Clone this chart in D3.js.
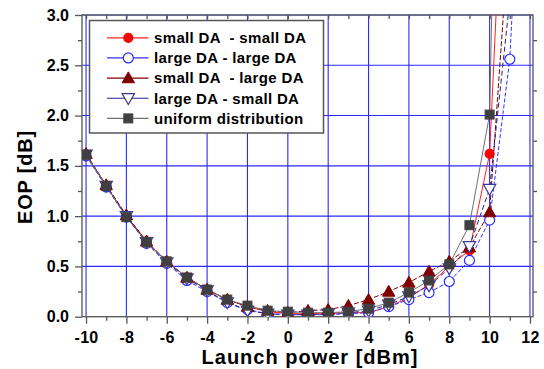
<!DOCTYPE html>
<html>
<head>
<meta charset="utf-8">
<script src="https://cdn.jsdelivr.net/npm/d3@7/dist/d3.min.js"></script>
<style>
  html, body { margin: 0; padding: 0; background: #fff; }
  svg text { font-family: "Liberation Sans", Arial, sans-serif; font-weight: bold; fill: #000; }
</style>
</head>
<body>
<div class="chart"></div>
<script>
// launch power values (dBm)
const powers = [-10, -9, -8, -7, -6, -5, -4, -3, -2, -1, 0, 1, 2, 3, 4, 5, 6, 7, 8, 9, 10, 11, 12];

// EOP [dB] per configuration
const smallSmall = [1.61, 1.30, 1.00, 0.75, 0.55, 0.39, 0.27, 0.17, 0.10, 0.05, 0.03, 0.03, 0.03, 0.04, 0.04, 0.10, 0.19, 0.32, 0.50, 0.66, 1.62, 5.97];
const largeLarge = [1.60, 1.29, 0.99, 0.73, 0.53, 0.36, 0.25, 0.14, 0.07, 0.03, 0.02, 0.02, 0.02, 0.03, 0.04, 0.10, 0.17, 0.24, 0.35, 0.56, 0.96, 2.56, 6.5];
const smallLarge = [1.62, 1.31, 1.01, 0.75, 0.55, 0.39, 0.27, 0.17, 0.10, 0.06, 0.04, 0.06, 0.07, 0.11, 0.17, 0.25, 0.34, 0.45, 0.55, 0.69, 1.04, 3.92];
const largeSmall = [1.61, 1.30, 1.00, 0.74, 0.54, 0.38, 0.26, 0.14, 0.06, 0.03, 0.02, 0.02, 0.03, 0.04, 0.06, 0.12, 0.20, 0.31, 0.48, 0.70, 1.27, 3.15];
const uniform    = [1.61, 1.30, 0.99, 0.74, 0.55, 0.39, 0.27, 0.17, 0.11, 0.06, 0.05, 0.04, 0.04, 0.05, 0.08, 0.14, 0.24, 0.36, 0.52, 0.91, 2.01, 11.5];

const legendLabels = ["small DA  - small DA", "large DA - large DA", "small DA  - large DA", "large DA - small DA", "uniform distribution"];

const xTicks = [-10, -8, -6, -4, -2, 0, 2, 4, 6, 8, 10, 12];
const yTicks = [0, 0.5, 1.0, 1.5, 2.0, 2.5, 3.0];

const series = [
  { name: legendLabels[0], values: smallSmall, line: "#ff2020", dash: null,  marker: "circle",   fill: "#ff0000", stroke: "#ff0000", size: 4.5 },
  { name: legendLabels[1], values: largeLarge, line: "#3030ff", dash: "4,2", marker: "circle",   fill: "#ffffff", stroke: "#2a2aff", size: 5 },
  { name: legendLabels[2], values: smallLarge, line: "#800000", dash: "5,2", marker: "triangle", fill: "#800000", stroke: "#800000", size: 6.2 },
  { name: legendLabels[3], values: largeSmall, line: "#20208a", dash: "5,3", marker: "down",     fill: "#ffffff", stroke: "#3a3a9a", size: 6.2 },
  { name: legendLabels[4], values: uniform,    line: "#707070", dash: null,  marker: "square",   fill: "#404040", stroke: "#404040", size: 4.5 }
];

const width = 544, height = 369;

const svg = d3.select(".chart").append("svg")
  .attr("width", width)
  .attr("height", height);

const x = d3.scaleLinear().domain([-10.2, 12.15]).range([82, 533]);
const y = d3.scaleLinear().domain([0, 3]).range([316.7, 15]);

svg.append("defs").append("clipPath").attr("id", "plotClip")
  .append("rect")
  .attr("x", 82).attr("y", 15)
  .attr("width", 533 - 82).attr("height", 316.7 - 15);

// grid
const grid = svg.append("g");
grid.selectAll(".vg").data(xTicks).enter().append("line")
  .attr("x1", d => x(d)).attr("x2", d => x(d))
  .attr("y1", y(0)).attr("y2", y(3))
  .attr("stroke", "#2a2aff").attr("stroke-width", 1.1);
grid.selectAll(".hg").data(yTicks.filter(d => d > 0)).enter().append("line")
  .attr("x1", x.range()[0]).attr("x2", x.range()[1])
  .attr("y1", d => y(d)).attr("y2", d => y(d))
  .attr("stroke", "#2a2aff").attr("stroke-width", 1.1);

// axes
const minorX = d3.range(-10, 13, 1).filter(d => d % 2 !== 0);
const minorY = d3.range(0.25, 3, 0.5);

function styleAxis(g) {
  g.select(".domain").remove();
  g.selectAll("line").attr("stroke", "#555").attr("stroke-width", 1.3);
}

svg.append("g").attr("transform", `translate(0,${y(0)})`)
  .call(d3.axisBottom(x).tickValues(xTicks).tickSize(7).tickPadding(8).tickFormat(d => String(d)))
  .call(styleAxis)
  .selectAll("text").attr("font-size", 16).attr("letter-spacing", 0.3)
  .style("font-family", "Liberation Sans, Arial, sans-serif").style("font-weight", "bold");
svg.append("g").attr("transform", `translate(0,${y(0)})`)
  .call(d3.axisBottom(x).tickValues(minorX).tickSize(4).tickFormat(""))
  .call(styleAxis);

svg.append("g").attr("transform", `translate(${x.range()[0]},0)`)
  .call(d3.axisLeft(y).tickValues(yTicks).tickSize(7).tickPadding(6).tickFormat(d3.format(".1f")))
  .call(styleAxis)
  .selectAll("text").attr("font-size", 16)
  .style("font-family", "Liberation Sans, Arial, sans-serif").style("font-weight", "bold");
svg.append("g").attr("transform", `translate(${x.range()[0]},0)`)
  .call(d3.axisLeft(y).tickValues(minorY).tickSize(4).tickFormat(""))
  .call(styleAxis);

svg.append("g").attr("transform", `translate(0,${y(3)})`)
  .call(d3.axisBottom(x).tickValues(d3.range(-10, 13, 1)).tickSize(4).tickFormat(""))
  .call(styleAxis);

svg.append("g").attr("transform", `translate(${x.range()[1]},0)`)
  .call(d3.axisRight(y).tickValues(minorY).tickSize(4).tickFormat(""))
  .call(styleAxis);

// frame
svg.append("rect")
  .attr("x", x.range()[0]).attr("y", y(3))
  .attr("width", x.range()[1] - x.range()[0]).attr("height", y(0) - y(3))
  .attr("fill", "none").attr("stroke", "#606060").attr("stroke-width", 1.4);

// marker drawing
function drawMarker(sel, s) {
  const r = s.size;
  if (s.marker === "circle") {
    sel.append("circle").attr("r", r)
      .attr("fill", s.fill).attr("stroke", s.stroke).attr("stroke-width", 1.2);
  } else if (s.marker === "square") {
    sel.append("rect").attr("x", -r).attr("y", -r).attr("width", 2 * r).attr("height", 2 * r)
      .attr("fill", s.fill).attr("stroke", s.stroke).attr("stroke-width", 1);
  } else if (s.marker === "triangle") {
    sel.append("path").attr("d", `M0,${-r}L${r},${r * 0.75}L${-r},${r * 0.75}Z`)
      .attr("fill", s.fill).attr("stroke", s.stroke).attr("stroke-width", 1);
  } else {
    sel.append("path").attr("d", `M0,${r}L${r},${-r * 0.75}L${-r},${-r * 0.75}Z`)
      .attr("fill", s.fill).attr("stroke", s.stroke).attr("stroke-width", 1.2);
  }
}

// data
const plot = svg.append("g").attr("clip-path", "url(#plotClip)");
const line = d3.line().x(d => x(d[0])).y(d => y(d[1]));

series.forEach(s => {
  const pts = s.values.map((v, i) => [powers[i], v]);
  plot.append("path").datum(pts)
    .attr("d", line)
    .attr("fill", "none")
    .attr("stroke", s.line)
    .attr("stroke-width", 1)
    .attr("stroke-dasharray", s.dash);
  s.pts = pts;
});
series.forEach(s => {
  s.pts.filter(p => p[0] <= 11).forEach(p => {
    const g = plot.append("g").attr("transform", `translate(${x(p[0])},${y(p[1])})`);
    drawMarker(g, s);
  });
});

// legend
const legend = svg.append("g");
legend.append("rect")
  .attr("x", 89.5).attr("y", 20.5).attr("width", 234).attr("height", 112.5)
  .attr("fill", "#fff").attr("stroke", "#555").attr("stroke-width", 1.5);

const rowY = d3.scalePoint().domain(legendLabels).range([37.8, 118.4]);
series.forEach(s => {
  const cy = rowY(s.name);
  legend.append("line")
    .attr("x1", 107).attr("x2", 148.5).attr("y1", cy).attr("y2", cy)
    .attr("stroke", s.line).attr("stroke-width", 1.2);
  drawMarker(legend.append("g").attr("transform", `translate(128.3,${cy})`), s);
  legend.append("text")
    .attr("x", 154).attr("y", cy + 5.3)
    .attr("font-size", 15)
    .attr("letter-spacing", 0.35)
    .style("white-space", "pre")
    .text(s.name);
});

// axis titles
svg.append("text")
  .attr("x", 310).attr("y", 364)
  .attr("text-anchor", "middle")
  .attr("font-size", 20)
  .attr("letter-spacing", 1)
  .text("Launch power [dBm]");

svg.append("text")
  .attr("transform", "translate(31.5,177) rotate(-90)")
  .attr("text-anchor", "middle")
  .attr("font-size", 20)
  .attr("letter-spacing", 0.8)
  .text("EOP [dB]");
</script>
</body>
</html>
